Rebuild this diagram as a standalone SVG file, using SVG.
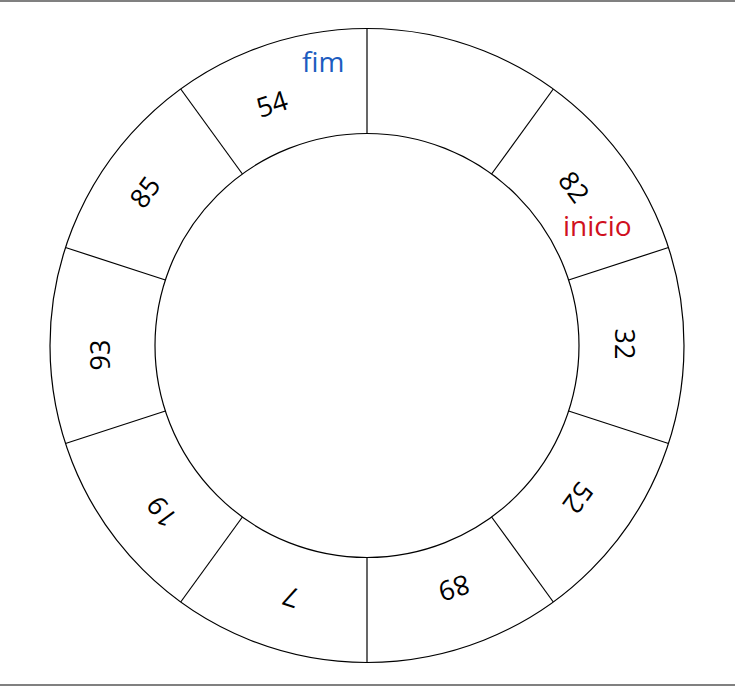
<svg xmlns="http://www.w3.org/2000/svg" width="735" height="686" viewBox="0 0 735 686">
<style>
.ring{fill:none;stroke:#000;stroke-width:1.2}
.div{stroke:#000;stroke-width:1.2}
.num{font-family:"Open Sans","DejaVu Sans",sans-serif;font-size:27px;fill:#000;text-anchor:middle}
.lbl{font-family:"Open Sans","DejaVu Sans",sans-serif;font-size:28px}
</style>
<rect x="0" y="0" width="735" height="686" fill="#fff"/>
<line x1="0" y1="1" x2="735" y2="1" stroke="#808080" stroke-width="2"/>
<line x1="0" y1="685" x2="735" y2="685" stroke="#808080" stroke-width="2"/>
<g id="ring">
<circle class="ring" cx="367" cy="345.5" r="317"/>
<circle class="ring" cx="367" cy="345.5" r="212"/>
</g>
<g id="connectors">
<line class="div" x1="367" y1="133.5" x2="367" y2="28.5"/>
<line class="div" x1="491.6" y1="174" x2="553.3" y2="89"/>
<line class="div" x1="568.6" y1="280" x2="668.5" y2="247.5"/>
<line class="div" x1="568.6" y1="411" x2="668.5" y2="443.5"/>
<line class="div" x1="491.6" y1="517" x2="553.3" y2="602"/>
<line class="div" x1="367" y1="557.5" x2="367" y2="662.5"/>
<line class="div" x1="242.4" y1="517" x2="180.7" y2="602"/>
<line class="div" x1="165.4" y1="411" x2="65.5" y2="443.5"/>
<line class="div" x1="165.4" y1="280" x2="65.5" y2="247.5"/>
<line class="div" x1="242.4" y1="174" x2="180.7" y2="89"/>
</g>
<g id="cell-54" transform="translate(272,104) rotate(-18)"><text class="num" x="0" y="9.7">54</text></g>
<g id="cell-82" transform="translate(574,187) rotate(54)"><text class="num" x="0" y="9.7">82</text></g>
<g id="cell-32" transform="translate(625,344) rotate(90)"><text class="num" x="0" y="9.7">32</text></g>
<g id="cell-52" transform="translate(578,498) rotate(126)"><text class="num" x="0" y="9.7">52</text></g>
<g id="cell-89" transform="translate(454,588) rotate(162)"><text class="num" x="0" y="9.7">89</text></g>
<g id="cell-7" transform="translate(291,597) rotate(198)"><text class="num" x="0" y="9.7">7</text></g>
<g id="cell-19" transform="translate(162,512) rotate(234)"><text class="num" x="0" y="9.7">19</text></g>
<g id="cell-93" transform="translate(100,355) rotate(270)"><text class="num" x="0" y="9.7">93</text></g>
<g id="cell-85" transform="translate(145,192) rotate(306)"><text class="num" x="0" y="9.7">85</text></g>
<g id="label-fim"><text class="lbl" x="302" y="72" fill="#1c5cc0">fim</text></g>
<g id="label-inicio"><text class="lbl" x="563" y="236" fill="#d01020">inicio</text></g>
</svg>
